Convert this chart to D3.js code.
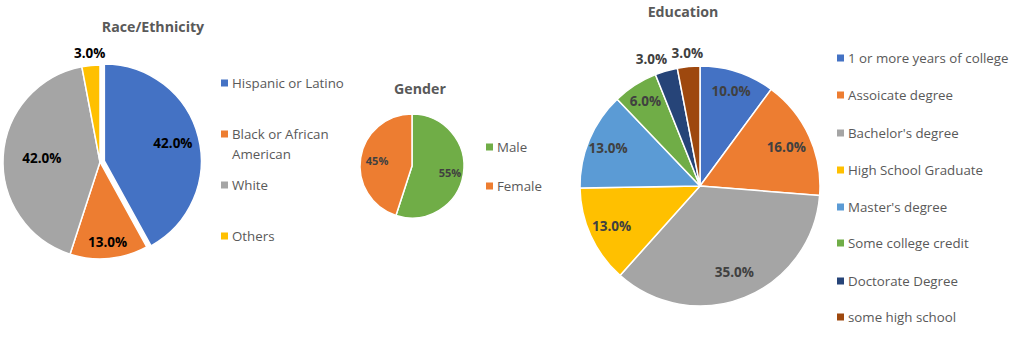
<!DOCTYPE html>
<html>
<head>
<meta charset="utf-8">
<script src="https://cdn.jsdelivr.net/npm/d3@7"></script>
<style>
  html, body { margin: 0; padding: 0; background: #ffffff; }
  svg { display: block; font-family: "Open Sans", "Noto Sans", sans-serif; }
</style>
</head>
<body>
<svg id="chart" width="1024" height="341"></svg>
<script>
// Race / ethnicity breakdown
const raceCategories = ["Hispanic or Latino", "Black or African American", "White", "Others"];
const raceValues = [42, 13, 42, 3];
const raceLabels = ["42.0%", "13.0%", "42.0%", "3.0%"];

// Gender breakdown
const genderCategories = ["Male", "Female"];
const genderValues = [55, 45];
const genderLabels = ["55%", "45%"];

// Education breakdown
const eduCategories = ["1 or more years of college", "Assoicate degree", "Bachelor's degree",
  "High School Graduate", "Master's degree", "Some college credit", "Doctorate Degree", "some high school"];
const eduValues = [10, 16, 35, 13, 13, 6, 3, 3];
const eduLabels = ["10.0%", "16.0%", "35.0%", "13.0%", "13.0%", "6.0%", "3.0%", "3.0%"];

const officeColors = ["#4472C4", "#ED7D31", "#A5A5A5", "#FFC000", "#5B9BD5", "#70AD47", "#264478", "#9E480E"];

const svg = d3.select("#chart");
svg.append("rect").attr("width", 1024).attr("height", 341).attr("fill", "#ffffff");

function drawPie(opts) {
  const g = svg.append("g").attr("transform", `translate(${opts.cx},${opts.cy})`);
  const pie = d3.pie().value(d => d.value).sort(null);
  const arcs = pie(opts.categories.map((c, i) => ({ name: c, value: opts.values[i], label: opts.labels[i] })));
  const arc = d3.arc().innerRadius(0).outerRadius(opts.r);
  const color = d3.scaleOrdinal().domain(opts.categories).range(opts.colors);

  const slice = g.selectAll("g.slice").data(arcs).join("g").attr("class", "slice")
    .attr("transform", (d, i) => {
      const off = (opts.explode && opts.explode[i]) || 0;
      const a = (d.startAngle + d.endAngle) / 2;
      return `translate(${Math.sin(a) * off},${-Math.cos(a) * off})`;
    });
  slice.append("path")
    .attr("d", arc)
    .attr("fill", d => color(d.data.name))
    .attr("stroke", "#ffffff")
    .attr("stroke-width", opts.strokeWidth)
    .attr("stroke-linejoin", "round");

  slice.append("text")
    .attr("transform", (d, i) => {
      const a = (d.startAngle + d.endAngle) / 2 + (opts.labelTurn ? opts.labelTurn[i] : 0);
      const rr = opts.r * opts.labelPos[i];
      return `translate(${Math.sin(a) * rr},${-Math.cos(a) * rr})`;
    })
    .attr("text-anchor", "middle")
    .attr("dominant-baseline", "central")
    .attr("font-weight", "bold")
    .attr("font-size", opts.labelSize)
    .attr("fill", opts.labelColor)
    .text(d => d.data.label);

  svg.append("text")
    .attr("x", opts.titleX).attr("y", opts.titleY)
    .attr("text-anchor", "middle")
    .attr("dominant-baseline", "central")
    .attr("font-weight", "bold")
    .attr("font-size", 14.2)
    .attr("fill", "#595959")
    .text(opts.title);

  const legend = svg.append("g");
  opts.categories.forEach((c, i) => {
    const lines = opts.legendLines ? opts.legendLines[i] : [c];
    const y = opts.legendY[i];
    legend.append("rect")
      .attr("x", opts.legendX).attr("y", y - 3.5)
      .attr("width", 7).attr("height", 7)
      .attr("fill", color(c));
    lines.forEach((ln, k) => {
      legend.append("text")
        .attr("x", opts.legendX + 11).attr("y", y + k * 20)
        .attr("dominant-baseline", "central")
        .attr("font-size", 13.3)
        .attr("fill", "#595959")
        .text(ln);
    });
  });
}

drawPie({
  categories: raceCategories, values: raceValues, labels: raceLabels,
  colors: officeColors.slice(0, 4),
  cx: 100, cy: 162, r: 97, strokeWidth: 1.5,
  explode: [4.5, 0, 0, 0],
  labelPos: [0.73, 0.83, 0.6, 1.13],
  labelSize: 13.5, labelColor: "#000000",
  title: "Race/Ethnicity", titleX: 153, titleY: 26,
  legendX: 221, legendY: [83, 134, 185, 236],
  legendLines: [["Hispanic or Latino"], ["Black or African", "American"], ["White"], ["Others"]]
});

drawPie({
  categories: genderCategories, values: genderValues, labels: genderLabels,
  colors: ["#70AD47", "#ED7D31"],
  cx: 412, cy: 166, r: 52, strokeWidth: 1.5,
  labelPos: [0.74, 0.68],
  labelSize: 11, labelColor: "#404040",
  title: "Gender", titleX: 420, titleY: 88,
  legendX: 486, legendY: [147, 186]
});

drawPie({
  categories: eduCategories, values: eduValues, labels: eduLabels,
  colors: officeColors,
  cx: 700, cy: 186, r: 120, strokeWidth: 1.5,
  labelPos: [0.83, 0.79, 0.77, 0.81, 0.83, 0.84, 1.13, 1.11],
  labelTurn: [0, 0, 0, 0, 0, 0, -0.08, 0],
  labelSize: 13.5, labelColor: "#404040",
  title: "Education", titleX: 683, titleY: 11,
  legendX: 837, legendY: [58, 95, 133, 170, 207, 243, 281, 317]
});
</script>
</body>
</html>
